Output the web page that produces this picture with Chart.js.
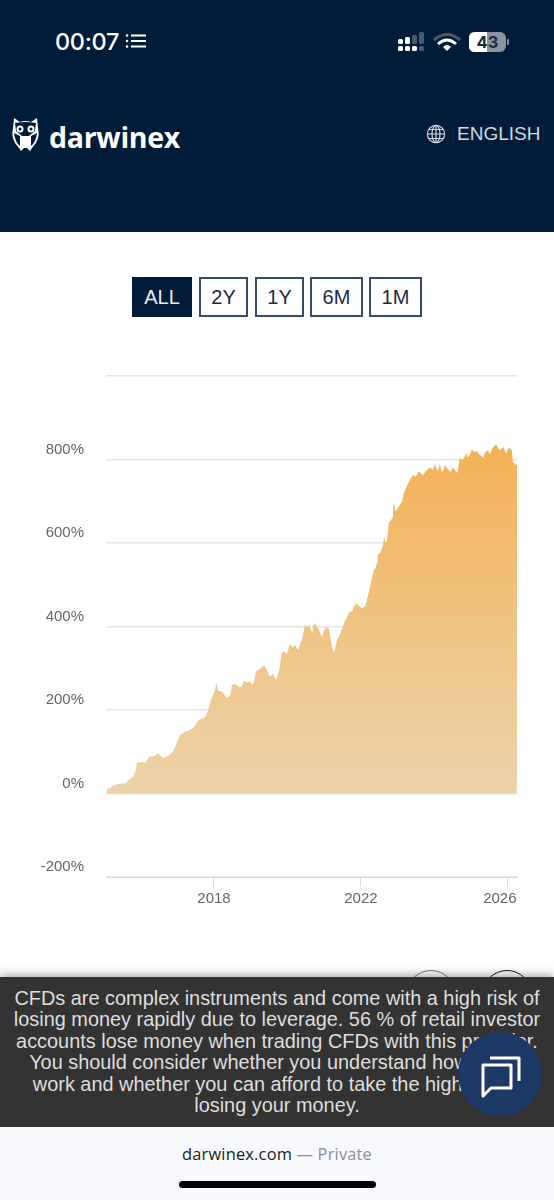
<!DOCTYPE html>
<html>
<head>
<meta charset="utf-8">
<title>darwinex</title>
<script src="https://cdn.jsdelivr.net/npm/chart.js@4"></script>
<style>
  html, body { margin: 0; padding: 0; background: #fff; }
  body { width: 554px; height: 1200px; position: relative; overflow: hidden; font-family: "Liberation Sans", sans-serif; }
  .abs { position: absolute; }
  #header { left: 0; top: 0; width: 554px; height: 232px; background: #011c39; }
  #time { left: 55px; top: 27px; color: #fff; font: 500 23.5px Inter, sans-serif; letter-spacing: -0.3px; }
  #logo { left: 49px; top: 118px; color: #fff; font: 700 28.5px "Open Sans", sans-serif; letter-spacing: -0.3px; }
  #lang { left: 457px; top: 123px; color: #d3dae2; font-size: 19px; }
  .btn { top: 277px; height: 36px; line-height: 36px; border: 2px solid #3a4c63; box-sizing: content-box; text-align: center; font-size: 20px; color: #1b2b40; background: #fff; }
  .btn.on { background: #011c39; border-color: #011c39; color: #e9edf2; }
  #chartBox { left: 0; top: 340px; width: 554px; height: 590px; }
  .ring { top: 970px; width: 50px; height: 50px; border-radius: 50%; background: #fff; box-sizing: border-box; }
  #notice { left: 0; top: 977px; width: 554px; height: 150px; background: #333; box-shadow: 0 -3px 8px rgba(0,0,0,.3); color: #dedede; font-size: 19.9px; line-height: 21.4px; text-align: center; padding-top: 11px; box-sizing: border-box; white-space: nowrap; }
  #chat { left: 458px; top: 1032px; width: 84px; height: 84px; border-radius: 50%; background: #1d3a66; }
  #bar { left: 0; top: 1127px; width: 554px; height: 73px; background: #f8f9fc; }
  #url { left: 0; top: 1142px; width: 554px; text-align: center; font: 16.4px "Open Sans", sans-serif; color: #1a1a1a; letter-spacing: .2px; }
  #url span { color: #8e8e93; }
  #home { left: 179px; top: 1181px; width: 197px; height: 7px; border-radius: 4px; background: #000; }
</style>
</head>
<body>
<div class="abs" id="header"></div>
<div class="abs" id="time">00:07</div>
<svg class="abs" style="left:125px;top:33px" width="22" height="16" fill="#fff">
  <circle cx="2" cy="2.5" r="1.3"/><circle cx="2" cy="8" r="1.3"/><circle cx="2" cy="13.5" r="1.3"/>
  <rect x="6" y="1.5" width="15" height="2"/><rect x="6" y="7" width="15" height="2"/><rect x="6" y="12.5" width="15" height="2"/>
</svg>
<svg class="abs" style="left:396px;top:30px" width="115" height="24">
  <g fill="#fff">
    <rect x="2" y="9" width="5" height="5" rx="1.5"/><rect x="9" y="7" width="5" height="7" rx="1.5"/>
    <rect x="2" y="16" width="5" height="5" rx="1.5"/><rect x="9" y="16" width="5" height="5" rx="1.5"/><rect x="16" y="16" width="5" height="5" rx="1.5"/>
  </g>
  <g fill="#4a5a6e">
    <rect x="16" y="5" width="5" height="9" rx="1.5"/><rect x="23" y="2" width="5" height="12" rx="1.5"/><rect x="23" y="16" width="5" height="5" rx="1.5"/>
  </g>
  <path d="M38 10 Q51 -1 64 10" fill="none" stroke="#4a5a6e" stroke-width="3"/>
  <path d="M42 14 Q51 6 60 14" fill="none" stroke="#fff" stroke-width="3"/>
  <path d="M47 17 Q51 13 55 17 L51 21 Z" fill="#fff"/>
  <rect x="73" y="2" width="37" height="20" rx="6" fill="#8b95a1"/>
  <path d="M79 2 H91 V22 H79 Q73 22 73 16 V8 Q73 2 79 2 Z" fill="#fff"/>
  <rect x="111" y="9" width="2" height="6" rx="1" fill="#8b95a1"/>
  <text x="91.5" y="18" text-anchor="middle" font-family="Inter" font-weight="700" font-size="16.5" fill="#1d2b3a">43</text>
</svg>
<svg class="abs" style="left:11px;top:116px" width="29" height="36">
  <path d="M3 2 L9 6 Q14 4 20 6 L26 2 L27 12 Q29 20 25 27 L21 32 L19 35 L16 32 H13 L10 35 L8 32 L4 27 Q0 20 2 12 Z" fill="#fff"/>
  <path d="M4 7 Q14 5 25 7 L24 15 L18 20 H11 L5 15 Z" fill="#011c39"/>
  <circle cx="9" cy="13" r="3.5" fill="#fff"/><circle cx="20" cy="13" r="3.5" fill="#fff"/>
  <circle cx="9" cy="13" r="1.5" fill="#011c39"/><circle cx="20" cy="13" r="1.5" fill="#011c39"/>
  <path d="M3 17 Q4 26 9 30 V20 Z M26 17 Q25 26 20 30 V20 Z" fill="#011c39"/>
</svg>
<div class="abs" id="logo">darwinex</div>
<svg class="abs" style="left:426px;top:124px" width="20" height="20" fill="none" stroke="#d3dae2" stroke-width="1.2">
  <circle cx="10" cy="10" r="8.6"/><ellipse cx="10" cy="10" rx="4" ry="8.6"/>
  <path d="M10 1.4 V18.6 M1.4 10 H18.6 M2.6 5.5 H17.4 M2.6 14.5 H17.4"/>
</svg>
<div class="abs" id="lang">ENGLISH</div>

<div class="abs btn on" style="left:132px;width:56px">ALL</div>
<div class="abs btn" style="left:199px;width:45px">2Y</div>
<div class="abs btn" style="left:255px;width:45px">1Y</div>
<div class="abs btn" style="left:310px;width:49px">6M</div>
<div class="abs btn" style="left:369px;width:49px">1M</div>

<div class="abs" id="chartBox"><canvas id="equityChart" width="554" height="590"></canvas></div>

<div class="abs ring" style="left:406px;border:1px solid #777"></div>
<div class="abs ring" style="left:482px;border:1px solid #111"></div>
<div class="abs" id="notice">CFDs are complex instruments and come with a high risk of<br>losing money rapidly due to leverage. 56 % of retail investor<br>accounts lose money when trading CFDs with this provider.<br>You should consider whether you understand how CFDs<br>work and whether you can afford to take the high risk of<br>losing your money.</div>
<div class="abs" id="chat"></div>
<svg class="abs" style="left:480px;top:1052px" width="42" height="46" fill="none" stroke="#fff" stroke-width="3" stroke-linejoin="round">
  <path d="M3 13 H31 V36 H11 L3 44 Z"/>
  <path d="M10 6 H39 V29"/>
</svg>
<div class="abs" id="bar"></div>
<div class="abs" id="url">darwinex.com <span>— Private</span></div>
<div class="abs" id="home"></div>

<script>
// data
const years = [
  2015.08, 2015.09, 2015.17, 2015.25, 2015.39, 2015.52, 2015.61, 2015.66, 2015.80, 2015.87,
  2015.90, 2016.03, 2016.12, 2016.18, 2016.23, 2016.39, 2016.46, 2016.53, 2016.61, 2016.75,
  2016.88, 2016.99, 2017.07, 2017.21, 2017.30, 2017.43, 2017.50, 2017.56, 2017.67, 2017.76,
  2017.81, 2017.84, 2017.92, 2018.00, 2018.03, 2018.07, 2018.11, 2018.22, 2018.35, 2018.44,
  2018.49, 2018.55, 2018.65, 2018.70, 2018.76, 2018.82, 2018.90, 2018.98, 2019.06, 2019.10,
  2019.14, 2019.25, 2019.31, 2019.37, 2019.44, 2019.52, 2019.61, 2019.69, 2019.77, 2019.85,
  2019.90, 2019.99, 2020.07, 2020.13, 2020.20, 2020.29, 2020.39, 2020.48, 2020.54, 2020.59,
  2020.67, 2020.69, 2020.75, 2020.80, 2020.86, 2020.94, 2020.99, 2021.06, 2021.13, 2021.21,
  2021.27, 2021.35, 2021.43, 2021.50, 2021.56, 2021.65, 2021.70, 2021.76, 2021.80, 2021.86,
  2021.97, 2022.03, 2022.11, 2022.16, 2022.22, 2022.30, 2022.35, 2022.40, 2022.44, 2022.46,
  2022.53, 2022.60, 2022.63, 2022.67, 2022.71, 2022.76, 2022.87, 2022.89, 2022.95, 2023.05,
  2023.12, 2023.18, 2023.25, 2023.34, 2023.42, 2023.47, 2023.52, 2023.57, 2023.63, 2023.68,
  2023.74, 2023.80, 2023.88, 2023.96, 2024.01, 2024.05, 2024.10, 2024.15, 2024.20, 2024.25,
  2024.29, 2024.33, 2024.37, 2024.44, 2024.50, 2024.56, 2024.60, 2024.64, 2024.69, 2024.76,
  2024.83, 2024.87, 2024.91, 2024.97, 2025.02, 2025.09, 2025.16, 2025.22, 2025.29, 2025.33,
  2025.37, 2025.42, 2025.46, 2025.51, 2025.57, 2025.62, 2025.68, 2025.73, 2025.78, 2025.84,
  2025.88, 2025.92, 2025.96, 2026.00, 2026.05, 2026.11, 2026.14, 2026.25
];
const returns = [
  2, 11, 14, 18, 23, 24, 25, 32, 40, 56,
  73, 76, 73, 80, 88, 90, 96, 92, 85, 90,
  100, 121, 140, 148, 150, 157, 165, 174, 179, 184,
  193, 200, 224, 241, 250, 265, 246, 244, 229, 234,
  260, 262, 258, 254, 256, 270, 265, 268, 260, 272,
  292, 298, 304, 306, 296, 280, 287, 272, 292, 337,
  340, 335, 359, 350, 356, 344, 368, 404, 398, 404,
  385, 400, 408, 400, 392, 373, 390, 398, 395, 352,
  337, 368, 380, 398, 412, 428, 436, 436, 445, 455,
  448, 444, 448, 462, 484, 517, 536, 540, 553, 572,
  578, 592, 616, 598, 608, 649, 661, 697, 676, 690,
  700, 722, 736, 752, 764, 758, 762, 772, 767, 762,
  769, 775, 781, 776, 788, 781, 772, 791, 769, 775,
  788, 780, 776, 770, 781, 775, 768, 772, 805, 798,
  808, 815, 805, 812, 824, 818, 820, 812, 808, 803,
  815, 820, 822, 812, 825, 832, 836, 829, 822, 827,
  830, 820, 815, 824, 828, 822, 793, 786
];
const yearTicks = [2018, 2022, 2026];
const percentTicks = [-200, 0, 200, 400, 600, 800, 1000];

const points = years.map((y, i) => ({ x: y, y: returns[i] }));

// the last year label is pushed back inside the plot
const shiftLastLabel = {
  id: "shiftLastLabel",
  afterUpdate(chart) {
    const items = chart.scales.x.getLabelItems(chart.chartArea);
    items[items.length - 1].options.translation[0] -= 8;
  }
};

new Chart(document.getElementById("equityChart"), {
  type: "line",
  plugins: [shiftLastLabel],
  data: {
    datasets: [{
      data: points,
      fill: "origin",
      borderWidth: 0,
      pointRadius: 0,
      tension: 0,
      backgroundColor(ctx) {
        const { chart } = ctx;
        if (!chart.chartArea) return "#f0c281";
        const s = chart.scales.y;
        const g = chart.ctx.createLinearGradient(0, s.getPixelForValue(835), 0, s.getPixelForValue(0));
        g.addColorStop(0, "#f3b156");
        g.addColorStop(1, "#ecd4ab");
        return g;
      }
    }]
  },
  options: {
    responsive: false,
    animation: false,
    layout: { padding: { top: 36, right: 37, left: 0, bottom: 0 } },
    plugins: { legend: { display: false }, tooltip: { enabled: false } },
    scales: {
      x: {
        type: "linear",
        min: 2015.06,
        max: 2026.25,
        afterBuildTicks(scale) { scale.ticks = yearTicks.map(v => ({ value: v })); },
        afterFit(scale) { scale.height = 53; },
        border: { color: "#d3dbec", width: 1 },
        grid: { drawOnChartArea: false, tickLength: 10, tickColor: "#d3dbec" },
        ticks: {
          maxRotation: 0,
          padding: 3,
          color: "#666",
          font: { family: "Liberation Sans", size: 15 },
          callback: v => String(v)
        }
      },
      y: {
        min: -200,
        max: 1000,
        afterBuildTicks(scale) { scale.ticks = percentTicks.map(v => ({ value: v })); },
        afterFit(scale) { scale.width = 106; },
        border: { display: false },
        grid: { color: "#e6e6e6", lineWidth: 1.5, drawTicks: false },
        ticks: {
          padding: 22,
          labelOffset: -10,
          color: "#666",
          font: { family: "Liberation Sans", size: 15 },
          callback: v => (v === 1000 ? "" : v + "%")
        }
      }
    }
  }
});
</script>
</body>
</html>
